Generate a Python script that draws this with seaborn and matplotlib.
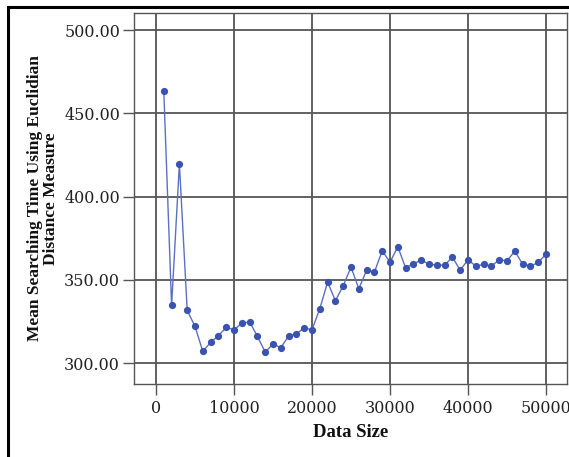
import matplotlib
matplotlib.use("Agg")
import matplotlib.pyplot as plt
import seaborn as sns
import pandas as pd
from matplotlib.patches import Rectangle

data_size = list(range(1000, 50001, 1000))
mean_time = [463.2, 334.6, 419.6, 331.6, 322.0, 307.0, 312.4, 316.4, 321.4, 320.0,
             323.8, 324.8, 316.0, 306.6, 311.4, 309.2, 316.2, 317.6, 321.0, 320.0,
             332.6, 348.6, 337.4, 346.4, 357.6, 344.6, 355.8, 354.6, 367.4, 360.6,
             369.8, 357.2, 359.6, 361.8, 359.4, 358.8, 358.8, 363.6, 355.8, 362.0,
             358.2, 359.2, 358.2, 362.0, 361.4, 367.2, 359.4, 358.2, 360.4, 365.4]
x_ticks = [0, 10000, 20000, 30000, 40000, 50000]
y_ticks = [300, 350, 400, 450, 500]

df = pd.DataFrame({"Data Size": data_size, "Mean": mean_time})

sns.set_style("white")
plt.rcParams['font.family'] = ['Liberation Serif', 'DejaVu Serif']

fig = plt.figure(figsize=(5.69, 4.57), dpi=100)
ax = fig.add_axes([134/569, 1 - 384/457, (567-134)/569, (384-12.7)/457])

sns.lineplot(data=df, x="Data Size", y="Mean", ax=ax, color="#3a52b0",
             linewidth=1.0, marker="o", markersize=5.2, markeredgewidth=0,
             markerfacecolor="#3a52b0")
ax.lines[0].set_color("#5b70c4")
ax.lines[0].set_markerfacecolor("#3a52b0")

ax.set_xlim(-2820, 52690)
ax.set_ylim(287.4, 510.4)
ax.set_xticks(x_ticks)
ax.set_xticklabels([str(v) for v in x_ticks])
ax.set_yticks(y_ticks)
ax.set_yticklabels([f"{v:.2f}" for v in y_ticks])
for lab in ax.get_xticklabels() + ax.get_yticklabels():
    lab.set_fontfamily(['DejaVu Serif'])
    lab.set_fontsize(11.5)
ax.grid(True, color="#555555", linewidth=1.3)
ax.set_axisbelow(True)
for s in ax.spines.values():
    s.set_color("#555555")
    s.set_linewidth(1.0)
ax.tick_params(axis="both", which="both", direction="out", length=8, width=1.0,
               color="#555555", labelcolor="#222222")
ax.tick_params(axis="x", bottom=True, pad=3.5)
ax.tick_params(axis="y", left=True, pad=2)

ax.set_xlabel("Data Size", fontsize=13.5, fontweight="bold", labelpad=5, color="#111111")
ax.set_ylabel("Mean Searching Time Using Euclidian\nDistance Measure", fontsize=12.5,
              fontweight="bold", labelpad=4, color="#111111", linespacing=0.95)

# figure frame (left and top border visible)
fig.patches.append(Rectangle((8/569, -0.1), 1.2, (457-7)/457 + 0.1,
                             transform=fig.transFigure, fill=False,
                             edgecolor="black", linewidth=2.2, zorder=10))

fig.savefig("out.png", dpi=100)
